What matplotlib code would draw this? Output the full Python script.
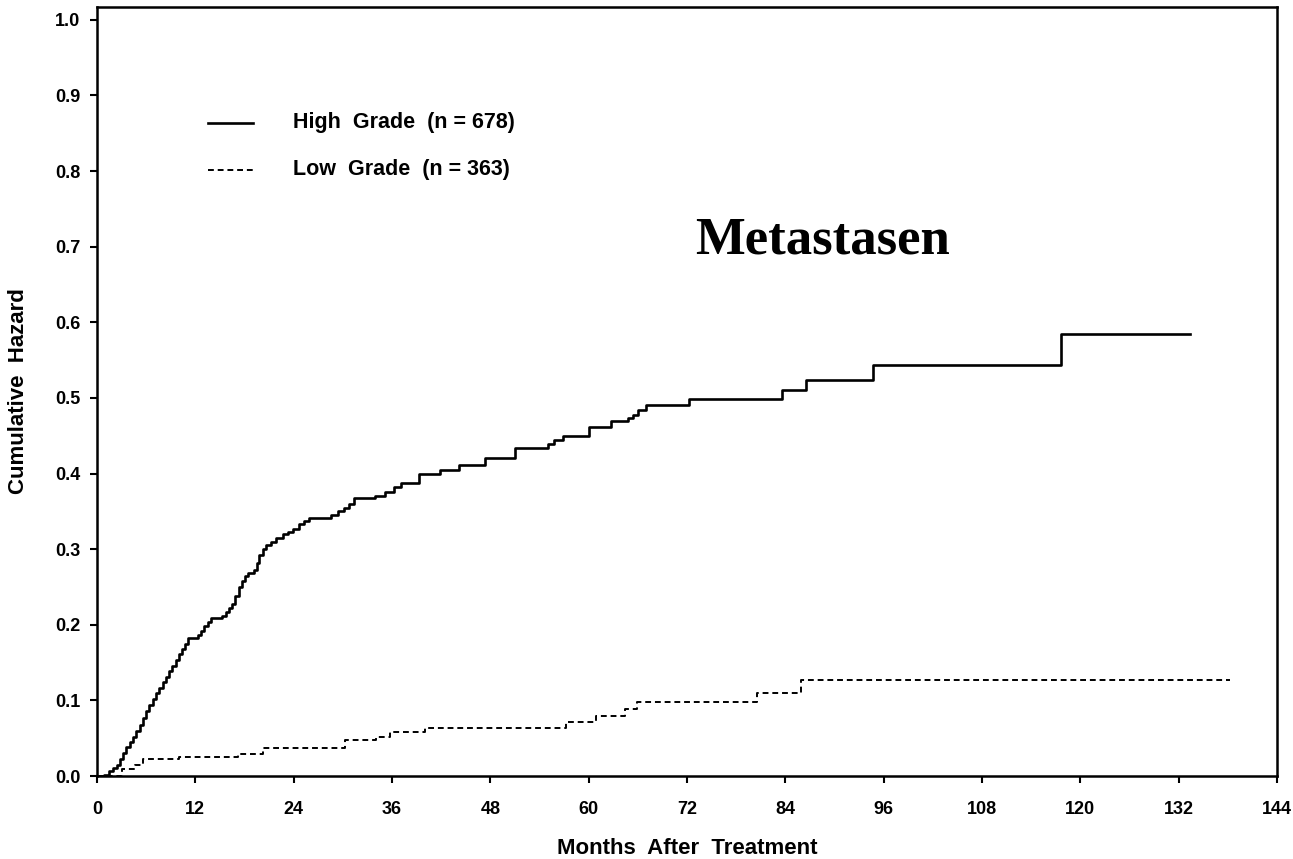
import matplotlib
matplotlib.use("Agg")
import matplotlib.pyplot as plt
from matplotlib.ticker import FormatStrFormatter

plt.rcParams['font.family'] = ['Liberation Sans', 'DejaVu Sans']

# cumulative hazard, high grade (step post)
high_months = [0, 0.8, 1.5, 2.0, 2.4, 2.8, 3.2, 3.6, 4.0, 4.4,
               4.8, 5.2, 5.6, 6.0, 6.4, 6.8, 7.2, 7.6, 8.0, 8.4,
               8.8, 9.2, 9.6, 10.0, 10.4, 10.8, 11.1, 12.3, 12.7, 13.1,
               13.5, 13.9, 15.3, 15.7, 16.1, 16.5, 16.9, 17.3, 17.7, 18.1,
               18.4, 19.2, 19.5, 19.8, 20.2, 20.6, 21.2, 21.8, 22.7, 23.3,
               23.9, 24.7, 25.3, 25.9, 28.6, 29.4, 30.2, 30.8, 31.4, 33.9,
               35.1, 36.3, 37.1, 39.3, 41.8, 44.2, 47.4, 51.0, 55.0, 55.8,
               56.9, 60.0, 62.7, 64.8, 65.4, 66.0, 67.0, 72.2, 83.6, 86.5,
               94.7, 117.7, 133.4]
high_hazard = [0, 0.002, 0.006, 0.010, 0.015, 0.022, 0.030, 0.038, 0.045, 0.052,
               0.060, 0.068, 0.077, 0.086, 0.094, 0.102, 0.110, 0.117, 0.124, 0.131,
               0.139, 0.146, 0.153, 0.161, 0.168, 0.175, 0.182, 0.186, 0.192, 0.198,
               0.204, 0.209, 0.212, 0.217, 0.222, 0.228, 0.238, 0.250, 0.258, 0.264,
               0.269, 0.272, 0.282, 0.292, 0.300, 0.305, 0.310, 0.315, 0.320, 0.323,
               0.327, 0.333, 0.337, 0.341, 0.345, 0.350, 0.355, 0.360, 0.367, 0.370,
               0.375, 0.382, 0.388, 0.399, 0.405, 0.411, 0.420, 0.434, 0.439, 0.445,
               0.450, 0.462, 0.469, 0.474, 0.478, 0.484, 0.490, 0.499, 0.510, 0.5235,
               0.543, 0.584, 0.584]

# cumulative hazard, low grade
low_months = [0, 2.5, 3.1, 4.6, 5.6, 10.0, 17.2, 20.2, 30.3, 34.0, 35.7, 40.0,
              57.2, 60.9, 64.4, 65.9, 80.5, 85.9, 138.3]
low_hazard = [0, 0.0, 0.009, 0.014, 0.023, 0.025, 0.029, 0.037, 0.047, 0.052,
              0.058, 0.063, 0.071, 0.079, 0.088, 0.098, 0.110, 0.127, 0.127]

x_ticks = list(range(0, 145, 12))
y_ticks = [i / 10 for i in range(11)]

fig = plt.figure(figsize=(12.93, 8.59), dpi=100)
ax = fig.add_axes([0.075, 0.0966, 0.9126, 0.8953])

ax.plot(high_months, high_hazard, drawstyle='steps-post', color='black', lw=1.9)
ax.plot(low_months, low_hazard, drawstyle='steps-post', color='black', lw=1.4,
        dashes=(3, 2))

ax.set_xlim(0, 144)
ax.set_ylim(0, 1.017)
ax.set_xticks(x_ticks)
ax.set_yticks(y_ticks)
ax.yaxis.set_major_formatter(FormatStrFormatter('%.1f'))
ax.tick_params(axis='both', direction='out', length=5, width=1.5,
               labelsize=13, color='black')
ax.tick_params(axis='x', pad=13)
ax.tick_params(axis='y', pad=7)
for lab in ax.get_xticklabels() + ax.get_yticklabels():
    lab.set_fontweight('bold')
for sp in ax.spines.values():
    sp.set_linewidth(1.8)

ax.set_xlabel('Months  After  Treatment', fontsize=16, fontweight='bold')
ax.set_ylabel('Cumulative  Hazard', fontsize=16, fontweight='bold')
ax.xaxis.set_label_coords(0.5, -0.08)
ax.yaxis.set_label_coords(-0.058, 0.5)

# legend drawn by hand like the original
ax.plot([0.094, 0.132], [0.8495, 0.8495], transform=ax.transAxes,
        color='black', lw=1.9)
ax.plot([0.094, 0.132], [0.788, 0.788], transform=ax.transAxes,
        color='black', lw=1.4, dashes=(3, 2))
ax.text(0.166, 0.8495, 'High  Grade  (n = 678)', transform=ax.transAxes,
        fontsize=15.5, fontweight='bold', va='center')
ax.text(0.166, 0.788, 'Low  Grade  (n = 363)', transform=ax.transAxes,
        fontsize=15.5, fontweight='bold', va='center')

ax.text(0.615, 0.68, 'Metastasen', transform=ax.transAxes,
        fontsize=38, fontweight='bold', family='Liberation Serif',
        ha='center', va='baseline')

fig.savefig('out.png', dpi=100)
